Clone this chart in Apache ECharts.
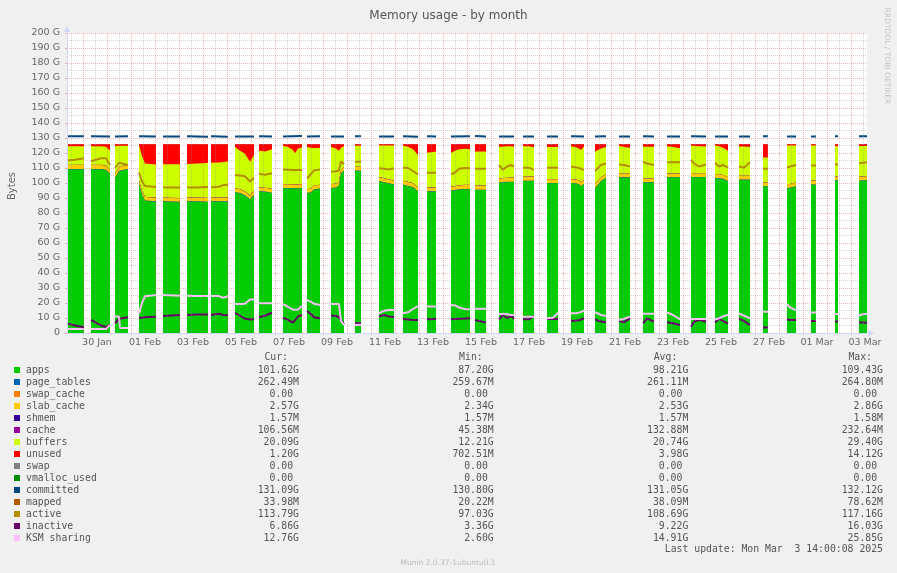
<!DOCTYPE html>
<html><head><meta charset="utf-8">
<script src="https://cdn.jsdelivr.net/npm/echarts@6/dist/echarts.min.js"></script>
<style>html,body{margin:0;padding:0;background:#f0f0f0;}#c{width:897px;height:573px;}</style>
</head><body><div id="c"></div>
<script>
// time axis: hours since 29 Jan 06:00 (graph spans 800 hours)
const segStart = [0,24,48,72,96,120,144,168,192,216,240,264,288,312,336,360,384,408,432,456,480,504,528,552,576,600,624,648,672,696,720,744,768,792];
const segTimes = [[0,8,17],[0,10,15,19],[0,4,5,13],[0,3,6,17],[0,17],[0,10,21],[0,8,12,17],[0,5,10,15,19],[0,6,13],[0,5,10,12,15,19],[0,4,7,13],[0,5,8,10,13],[0,6],[0,5,10,15],[0,5,10,15],[0,9],[0,4,8,14,19],[0,11],[0,4,8,12,15],[0,6,11],[0,6,11],[0,4,8,10,13],[0,3,6,11],[0,5,11],[0,4,11],[0,6,13],[0,3,8,15],[0,4,8,13],[0,5,11],[0,5],[0,3,9],[0,5],[0,3],[0,4,8]];

const apps = [[109,109,109],[109,109,108.5,106],[103,107.5,108,109],[99,92,88,87.5],[87.5,87.2],[87.5,87.5,87.3],[87.5,87.5,87.5,87.5],[93.5,93,91.5,88.8,92],[94.2,94,93.3],[96.4,96.4,96.3,96.2,96.3,96.4],[93,93.5,95.5,96],[96.4,96.8,98,106,108],[108,108],[101,100.3,99.5,98.7],[98.7,97.8,97,94.2],[94.2,94.2],[94.7,95,95.5,95.8,95.8],[95.3,95.3],[100,100.4,100.5,100.6,100.6],[101.3,101.3,101.3],[99.8,99.8,99.8],[99.8,99.6,99,97.6,99.3],[96.4,98.5,101,103.1],[103.5,103.5,103.5],[100.2,100.2,100.2],[103.6,103.6,103.6],[103.8,103.8,103.8,103.8],[103,103,102.5,101],[102,102,102],[97.6,97.6],[96.4,96.5,97.6],[98.7,98.7],[101.6,101.6],[101.3,101.5,101.62]];
const buffers = [[12.3,12.3,12.3],[12.3,12.3,12.4,12.4],[18.3,14.1,13.6,12.6],[23.1,23.1,22.1,21.9],[22.1,22.4],[22.3,22.6,23.1],[23.1,23.3,23.6,23.9],[27.5,25.5,25.0,22.4,23.7],[24.4,24.1,26.3],[25.5,24.7,22.8,20.7,23.8,24.3],[28.1,27.1,24.9,24.6],[24.7,23.3,20.6,14.6,13.6],[13.9,13.9],[21.0,21.7,22.5,23.3],[23.1,23.4,22.5,21.5],[23.0,23.8],[22.3,23.5,24.0,24.0,23.7],[22.7,22.7],[21.2,20.8,21.0,20.9,20.6],[20.2,20.2,19.5],[21.3,21.3,21.3],[21.8,21.5,21.1,21.5,22.1],[21.7,20.6,19.1,18.0],[18.4,17.6,17.1],[21.1,21.1,21.1],[18.0,17.5,16.6],[18.1,18.1,17.8,17.6],[19.1,18.6,18.1,17.6],[19.4,19.4,19.1],[16.5,16.5],[25.7,25.6,24.5],[23.4,23.4],[20.0,20.0],[20.36,20.16,20.09]];
const unused = [[1.35,1.35,1.35],[1.35,1.35,1.76,4.26],[1.35,1.05,1.05,1.05],[0.85,7.85,12.85,13.55],[13.35,13.35],[13.15,12.85,12.55],[12.35,12.15,11.85,11.55],[1.85,4.35,6.35,11.65,7.15],[4.35,4.85,3.35],[1.05,1.85,3.85,6.05,2.85,2.25],[1.85,2.35,2.55,2.35],[1.85,2.85,4.35,2.35,1.35],[1.05,1.05],[0.85,0.85,0.85,0.85],[1.05,1.65,3.35,7.15],[5.65,4.85],[5.85,4.35,3.35,3.05,3.35],[4.85,4.85],[1.65,1.65,1.35,1.35,1.65],[1.35,1.35,2.05],[1.85,1.85,1.85],[1.35,1.85,2.85,3.85,1.55],[4.85,3.85,2.85,1.85],[1.05,1.85,2.35],[1.65,1.65,1.65],[1.35,1.85,2.75],[1.05,1.05,1.35,1.55],[0.85,1.35,2.35,4.35],[1.55,1.55,1.85],[8.85,8.85],[0.85,0.85,0.85],[0.85,0.85],[1.35,1.35],[1.25,1.25,1.20]];
const active = [[115,115.5,116.5],[114.5,116.5,116.5,112],[110,113.5,113,112],[107,101,98,97.3],[97,97],[97,97,97.3],[97.2,97.5,98.5,99],[105.3,105,104.5,101,103.5],[106.2,105.5,106.5],[109,108.8,108.6,108.5,108.7,108.7],[103,106,108.5,109],[107.5,107.8,108.5,114.5,112.5],[114.2,114.2],[109.8,109.5,109,109.8],[110.2,110,108,105.8],[106.9,106.9],[105.8,107,109.5,110,109.8],[109.5,109.5],[112,108.8,111,112,111],[110.2,110.2,108.8],[110.2,110.2,110.2],[111,110.5,110,109,108.7],[108,110,112,113.1],[112.4,112,111],[114.2,113,112],[113.8,113.8,113.8],[115.5,113,111,112.3],[113.5,111,112,110.3],[111,110.2,114],[109.5,109.5],[110.2,111,112],[111.6,111.6],[112.4,112.4],[113.1,113.5,113.79]];
const inactive = [[6.4,5,3.8],[8.7,5,4,5.5],[6.5,9.5,10,10.5],[10.2,10.2,10.5,10.8],[11.3,12],[12,12.3,12.3],[12,12.8,12,11.8],[13.5,11.5,9.5,9,9.2],[10.5,11.5,13.5],[10.2,8.7,6.9,8.5,11,12],[14.7,12.5,10.5,9.8],[11.6,11.3,10.5,8.7,5.8],[6.4,6.6],[10.9,12,11,10.6],[9.3,9,8.7,8.7],[9.1,9.3],[9.1,9.3,9.5,9.6,9.8],[8.7,6.9],[9.1,12,10,11.3,9.5],[9.1,9.1,11.5],[9.3,9.3,9.3],[8.2,8.2,8.5,9,9.8],[9.3,8.2,7.6,7.1],[8.2,7.2,9.8],[6.4,9.8,7.6],[7.1,6.5,5.3],[4.2,7.5,8.8,7.5],[7,9.5,8,6.2],[9.6,8,5.3],[3.6,3.6],[9.1,8.7,8.7],[8,8],[7.6,7.6],[7,7,6.86]];
const ksmSharing = [[2.6,2.6,2.6],[2.6,2.6,2.7,5.3],[11,11,3.3,3.3],[13.1,20,24.5,25.3],[25.3,24.9],[24.8,24.6,24.6],[24.6,24.6,23.5,24.5],[19.3,19.3,19.5,22.4,22.4],[19.8,19.8,19.8],[19.3,17.5,15.5,15.4,15.6,18],[22,20.8,19.5,18.7],[19.3,19.3,19.3,8,5.3],[5.3,5.5],[13.1,14.9,15.3,15.3],[13.1,13.8,16,18],[17.6,17.6],[18.7,18.4,17,15.9,15.8],[16.2,16.2],[12.7,12.7,12.5,12,12],[10.9,10.9,10.9],[9.8,10.2,13.5],[13.1,13.1,13.5,14.5,14.9],[13.8,13,12,11.3],[8.7,9.5,10.9],[12.9,12.9,12.9],[13.8,12,9.1],[9.3,9.3,9.3,9.3],[9,9.8,11,12.2],[13.1,11.5,9.8],[14.2,14.2],[19.2,17,15.3],[13.7,13.7],[12.7,12.7],[11.7,12.5,12.76]];
// committed: value at start and end of each segment
const committed = [[131.1,131.1],[131.1,131.0],[131.0,131.1],[131.1,131.0],[131.0,131.0],[131.2,130.9],[131.1,130.9],[131.0,131.0],[131.1,131.0],[131.0,131.3],[131.0,131.2],[131.0,131.0],[131.1,131.1],[131.0,131.0],[131.1,130.9],[131.2,131.0],[131.0,131.1],[131.3,131.0],[131.0,131.0],[131.0,131.0],[131.0,131.0],[131.1,131.0],[131.0,131.2],[131.0,131.0],[131.2,131.0],[131.0,131.0],[131.1,131.0],[131.0,131.0],[131.0,131.0],[131.1,131.1],[131.0,131.0],[131.0,131.0],[131.1,131.1],[131.09,131.09]];
// one value per segment
const pageTables = [0.26,0.26,0.26,0.26,0.26,0.26,0.26,0.26,0.26,0.26,0.26,0.26,0.26,0.26,0.26,0.26,0.26,0.26,0.26,0.26,0.26,0.26,0.26,0.26,0.26,0.26,0.26,0.26,0.26,0.26,0.26,0.26,0.26,0.262];
const swapCache = [0,0,0,0,0,0,0,0,0,0,0,0,0,0,0,0,0,0,0,0,0,0,0,0,0,0,0,0,0,0,0,0,0,0];
const slabCache = [2.8,2.8,2.8,2.4,2.4,2.4,2.4,2.5,2.5,2.5,2.5,2.5,2.5,2.6,2.6,2.6,2.6,2.6,2.6,2.6,2.5,2.5,2.5,2.5,2.5,2.5,2.5,2.5,2.5,2.5,2.5,2.5,2.5,2.57];
const shmem = [0.0016,0.0016,0.0016,0.0016,0.0016,0.0016,0.0016,0.0016,0.0016,0.0016,0.0016,0.0016,0.0016,0.0016,0.0016,0.0016,0.0016,0.0016,0.0016,0.0016,0.0016,0.0016,0.0016,0.0016,0.0016,0.0016,0.0016,0.0016,0.0016,0.0016,0.0016,0.0016,0.0016,0.0016];
const cache = [0.13,0.13,0.13,0.2,0.2,0.2,0.2,0.2,0.13,0.13,0.13,0.13,0.13,0.13,0.13,0.13,0.13,0.13,0.13,0.13,0.13,0.13,0.13,0.13,0.13,0.13,0.13,0.13,0.13,0.13,0.13,0.13,0.13,0.107];
const swap = [0,0,0,0,0,0,0,0,0,0,0,0,0,0,0,0,0,0,0,0,0,0,0,0,0,0,0,0,0,0,0,0,0,0];
const vmallocUsed = [0,0,0,0,0,0,0,0,0,0,0,0,0,0,0,0,0,0,0,0,0,0,0,0,0,0,0,0,0,0,0,0,0,0];
const mapped = [0.04,0.04,0.04,0.03,0.03,0.03,0.03,0.04,0.04,0.04,0.04,0.04,0.03,0.04,0.04,0.04,0.04,0.04,0.04,0.04,0.04,0.04,0.04,0.04,0.04,0.04,0.04,0.04,0.04,0.03,0.04,0.03,0.03,0.034];

const xLabelPos = [30,78,126,174,222,270,318,366,414,462,510,558,606,654,702,750,798];
const xLabels = ['30 Jan','01 Feb','03 Feb','05 Feb','07 Feb','09 Feb','11 Feb','13 Feb','15 Feb','17 Feb','19 Feb','21 Feb','23 Feb','25 Feb','27 Feb','01 Mar','03 Mar'];

const legendNames = ['apps','page_tables','swap_cache','slab_cache','shmem','cache','buffers','unused','swap','vmalloc_used','committed','mapped','active','inactive','KSM sharing'];
const legendColors = ['#00CC00','#0066B3','#FF8000','#FFCC00','#330099','#990099','#CCFF00','#FF0000','#808080','#008F00','#00487D','#B35A00','#B38F00','#6B006B','#FFBFFF'];
const curVals = ['101.62G','262.49M','0.00','2.57G','1.57M','106.56M','20.09G','1.20G','0.00','0.00','131.09G','33.98M','113.79G','6.86G','12.76G'];
const minVals = ['87.20G','259.67M','0.00','2.34G','1.57M','45.38M','12.21G','702.51M','0.00','0.00','130.80G','20.22M','97.03G','3.36G','2.60G'];
const avgVals = ['98.21G','261.11M','0.00','2.53G','1.57M','132.88M','20.74G','3.98G','0.00','0.00','131.05G','38.09M','108.69G','9.22G','14.91G'];
const maxVals = ['109.43G','264.80M','0.00','2.86G','1.58M','232.64M','29.40G','14.12G','0.00','0.00','132.12G','78.62M','117.16G','16.03G','25.85G'];

// ---- build helpers ----
function segSeries(arr){
  const out=[];
  arr.forEach((vals,k)=>{
    const ts=segTimes[k];
    ts.forEach((t,j)=>out.push([segStart[k]+t, vals[j]]));
    out.push([segStart[k]+ts[ts.length-1]+1, null]);
  });
  return out;
}
function scalarSeries(arr){ return segSeries(arr.map((v,k)=>segTimes[k].map(()=>v))); }
function endSeries(arr){
  const out=[];
  arr.forEach((v,k)=>{const ts=segTimes[k], e=segStart[k]+ts[ts.length-1];
    out.push([segStart[k],v[0]],[e,v[1]],[e+1,null]);});
  return out;
}
const colorOf = n => legendColors[legendNames.indexOf(n)];

// stacked layers (bottom to top)
const stackLayers = [
  ['apps', apps, false], ['page_tables', pageTables, true], ['swap_cache', swapCache, true],
  ['slab_cache', slabCache, true], ['shmem', shmem, true], ['cache', cache, true],
  ['buffers', buffers, false], ['unused', unused, false], ['swap', swap, true]
];
const cum = stackLayers.map(()=>[]);
segTimes.forEach((ts,k)=>{
  ts.forEach((t,j)=>{
    let s=0;
    stackLayers.forEach(([n,arr,scalar],L)=>{
      s += scalar ? arr[k] : arr[k][j];
      (cum[L][k] = cum[L][k] || [])[j] = s;
    });
  });
});

const GRID='rgba(150,150,150,0.42)', MGRID='rgba(222,79,79,0.42)';
const series = [];
// background grid (vertical) via markLines, drawn under the data
const vMinor=[], vMajor=[];
for(let k=0;k<34;k++){ if(4.5+24*k<800) vMinor.push({xAxis:4.5+24*k}); if(16.5+24*k<800) vMajor.push({xAxis:16.5+24*k}); }
const mlCommon={symbol:['none','none'],label:{show:false},silent:true,animation:false};
series.push({type:'line',data:[[0,null]],z:1,silent:true,
  markLine:Object.assign({lineStyle:{color:GRID,width:1,type:[1,1]},data:vMinor},mlCommon)});
series.push({type:'line',data:[[0,null]],z:1,silent:true,
  markLine:Object.assign({lineStyle:{color:MGRID,width:1,type:[1,1]},data:vMajor},mlCommon)});

const lineDefs = [
  ['vmalloc_used', scalarSeries(vmallocUsed), 1],
  ['committed', endSeries(committed), 3],
  ['mapped', scalarSeries(mapped), 1],
  ['active', segSeries(active), 3],
  ['inactive', segSeries(inactive), 3],
  ['KSM sharing', segSeries(ksmSharing), 3]
];
// areas: from the top layer down, each polygon from 0 to its cumulative top
for(let L=stackLayers.length-1; L>=0; L--){
  const name=stackLayers[L][0], col=colorOf(name);
  series.push({name:name,type:'custom',silent:true,z:2,
    data:segStart.map((s,k)=>[s,0,k]),
    encode:{x:0,y:1},
    renderItem:(params,api)=>{
      const k=params.dataIndex, ts=segTimes[k], tops=cum[L][k];
      const pts=ts.map((t,j)=>api.coord([segStart[k]+t, tops[j]]));
      const e=segStart[k]+ts[ts.length-1];
      pts.push(api.coord([e,0]), api.coord([segStart[k],0]));
      return {type:'polygon',shape:{points:pts},style:{fill:col,stroke:null}};
    }});
}
lineDefs.forEach(([n,d,z])=>series.push({name:n,type:'line',data:d,symbol:'none',
  lineStyle:{width:2,color:colorOf(n),cap:'butt'},itemStyle:{color:colorOf(n)},z:z,silent:true}));

// ---- text graphics ----
const FONT='"DejaVu Sans"', MONO='"DejaVu Sans Mono"';
function txt(x,y,s,align,font,fill,rot){
  return {type:'text',x:x,y:y,rotation:rot||0,silent:true,z:10,
    style:{text:s,font:font,fill:fill,align:align,textAlign:align,verticalAlign:'middle',textVerticalAlign:'middle'}};
}
const charW=5.9, legFont='9.8px '+MONO, legFill='#555';
const colRight=[299,493.7,688.3,883];
const g=[];
['Cur:','Min:','Avg:','Max:'].forEach((h,c)=>g.push(txt(colRight[c]-11,357,h,'right',legFont,legFill)));
legendNames.forEach((n,i)=>{
  const y=370+12*i;
  g.push({type:'rect',shape:{x:14,y:y-3,width:6,height:6},style:{fill:legendColors[i]},z:10,silent:true});
  g.push(txt(26,y,n,'left',legFont,legFill));
  [curVals,minVals,avgVals,maxVals].forEach((arr,c)=>{
    const v=arr[i]; const noUnit=/\d$/.test(v);
    g.push(txt(colRight[c]-(noUnit?charW:0),y,v,'right',legFont,legFill));
  });
});
g.push(txt(883,549,'Last update: Mon Mar  3 14:00:08 2025','right',legFont,legFill));
g.push(txt(448,563,'Munin 2.0.37-1ubuntu0.1','center','7.5px '+FONT,'#bbb'));
g.push(txt(12,186,'Bytes','center','10px '+FONT,'#666',Math.PI/2));
g.push(txt(887,56,'RRDTOOL / TOBI OETIKER','center','7.5px '+FONT,'#c4c4c4',-Math.PI/2));

const chart=echarts.init(document.getElementById('c'),null,{renderer:'canvas'});
chart.setOption({
  backgroundColor:'#f0f0f0',
  animation:false,
  title:{text:'Memory usage - by month',left:'center',top:5,
    textStyle:{fontFamily:'DejaVu Sans',fontSize:12,fontWeight:'normal',color:'#555'}},
  grid:{left:67,top:33,width:800,height:300,show:true,backgroundColor:'#ffffff',borderWidth:0},
  xAxis:{type:'value',min:0,max:800,z:6,
    axisLine:{show:true,onZero:false,lineStyle:{color:'#CFD6F8',width:1},symbol:['none','triangle'],symbolSize:[6,6],symbolOffset:[0,4]},
    axisTick:{show:true,customValues:xLabelPos.map(v=>v-13.5),length:3,lineStyle:{color:'#CFD6F8'}},
    axisLabel:{customValues:xLabelPos,formatter:v=>xLabels[xLabelPos.indexOf(v)]||'',
      fontFamily:'DejaVu Sans',fontSize:9.5,color:'#666',margin:5},
    splitLine:{show:false}},
  yAxis:[
    {type:'value',min:0,max:200,interval:10,z:6,
      axisLine:{show:true,lineStyle:{color:'#CFD6F8',width:1},symbol:['none','triangle'],symbolSize:[6,6],symbolOffset:[0,4]},
      axisTick:{show:true,length:2,lineStyle:{color:MGRID}},
      axisLabel:{formatter:v=>v===0?'0':v+' G',fontFamily:'DejaVu Sans',fontSize:9.5,color:'#666',margin:7},
      splitLine:{show:false}},
    {type:'value',min:0,max:200,interval:10,z:0,position:'left',
      axisLine:{show:false},axisTick:{show:false},axisLabel:{show:false},
      splitLine:{show:true,lineStyle:{color:MGRID,width:1,type:[1,1]}},
      minorTick:{show:false,splitNumber:2},
      minorSplitLine:{show:true,lineStyle:{color:GRID,width:1,type:[1,1]}}}
  ],
  series:series,
  graphic:{elements:g}
});
</script></body></html>
